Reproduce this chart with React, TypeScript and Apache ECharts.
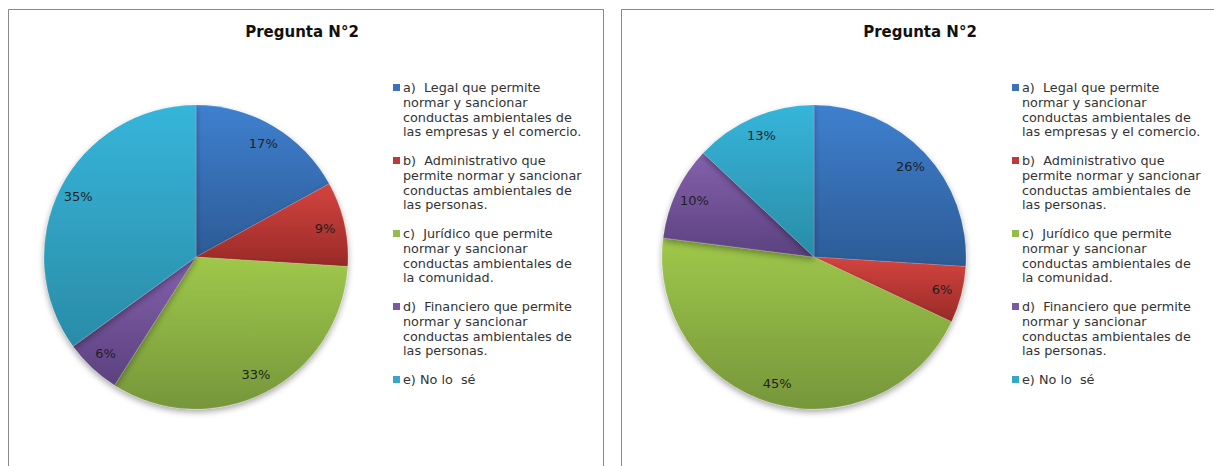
import React, { useEffect, useRef } from 'react';
import * as echarts from 'echarts';

const chartTitle = 'Pregunta N°2';
const categories = [
  'a)  Legal que permite\nnormar y sancionar\nconductas ambientales de\nlas empresas y el comercio.',
  'b)  Administrativo que\npermite normar y sancionar\nconductas ambientales de\nlas personas.',
  'c)  Jurídico que permite\nnormar y sancionar\nconductas ambientales de\nla comunidad.',
  'd)  Financiero que permite\nnormar y sancionar\nconductas ambientales de\nlas personas.',
  'e) No lo  sé',
];
const leftValues = [17, 9, 33, 6, 35];
const rightValues = [26, 6, 45, 10, 13];

const topColors = ['#3f80cf', '#d4443f', '#9fc84b', '#8461ac', '#36b5da'];
const bottomColors = ['#2c5b96', '#982a27', '#76963a', '#5b417f', '#2a8ca7'];
const markerColors = ['#3d71ba', '#c0393a', '#95bd4c', '#7a5aa2', '#35a7c8'];

const FONT = '"DejaVu Sans", sans-serif';

function buildPie(values: number[], center: number[], radius: number) {
  const data = values.map((v, i) => ({
    name: categories[i],
    value: v,
    itemStyle: {
      color: new echarts.graphic.LinearGradient(0, 0, 0, 1, [
        { offset: 0, color: topColors[i] },
        { offset: 1, color: bottomColors[i] },
      ]),
    },
  }));
  const labelData = values.map((v, i) => ({ name: categories[i], value: v }));
  return [
    {
      type: 'pie',
      center,
      radius,
      startAngle: 90,
      clockwise: true,
      silent: true,
      label: { show: false },
      labelLine: { show: false },
      itemStyle: {
        borderColor: 'rgba(255,255,255,0.25)',
        borderWidth: 0.5,
        shadowBlur: 6,
        shadowOffsetY: 3,
        shadowColor: 'rgba(0,0,0,0.35)',
      },
      data,
    },
    {
      type: 'pie',
      center,
      radius: [radius * 0.7, radius],
      startAngle: 90,
      clockwise: true,
      silent: true,
      itemStyle: { color: 'rgba(0,0,0,0)' },
      label: {
        show: true,
        position: 'inside',
        formatter: '{c}%',
        fontFamily: FONT,
        fontSize: 13,
        color: '#1f1f1f',
      },
      labelLine: { show: false },
      data: labelData,
    },
  ];
}

function buildLegend(x: number, y0: number) {
  const els: any[] = [];
  let y = y0;
  categories.forEach((name, i) => {
    const lines = name.split('\n').length;
    els.push({
      type: 'rect',
      shape: { x, y: y + 4, width: 7, height: 7 },
      style: { fill: markerColors[i] },
    });
    els.push({
      type: 'text',
      x: x + 10,
      y,
      style: {
        text: name,
        font: `12.8px ${FONT}`,
        fill: '#333333',
        lineHeight: 14.8,
        verticalAlign: 'top',
        align: 'left',
      },
    });
    y += lines * 14.8 + 13.8;
  });
  return els;
}

export default function App() {
  const ref = useRef<HTMLDivElement>(null);
  useEffect(() => {
    if (!ref.current) return;
    const chart = echarts.init(ref.current, undefined, { renderer: 'svg' });
    const option: any = {
      animation: false,
      backgroundColor: '#ffffff',
      graphic: [
        {
          type: 'rect',
          z: -10,
          shape: { x: 8.5, y: 9.5, width: 595, height: 480 },
          style: { fill: 'none', stroke: '#8a8a8a', lineWidth: 1 },
        },
        {
          type: 'rect',
          z: -10,
          shape: { x: 621.5, y: 9.5, width: 600, height: 480 },
          style: { fill: 'none', stroke: '#8a8a8a', lineWidth: 1 },
        },
        {
          type: 'text',
          x: 302,
          y: 32,
          style: {
            text: chartTitle,
            font: `bold 15px ${FONT}`,
            fill: '#111111',
            align: 'center',
            verticalAlign: 'middle',
          },
        },
        {
          type: 'text',
          x: 920,
          y: 32,
          style: {
            text: chartTitle,
            font: `bold 15px ${FONT}`,
            fill: '#111111',
            align: 'center',
            verticalAlign: 'middle',
          },
        },
        ...buildLegend(393, 80),
        ...buildLegend(1012, 80),
      ],
      series: [
        ...buildPie(leftValues, [196, 257], 152),
        ...buildPie(rightValues, [814, 257], 152),
      ],
    };
    chart.setOption(option);
    return () => chart.dispose();
  }, []);
  return (
    <div
      ref={ref}
      style={{ position: 'fixed', left: 0, top: 0, width: 1214, height: 466 }}
    />
  );
}
